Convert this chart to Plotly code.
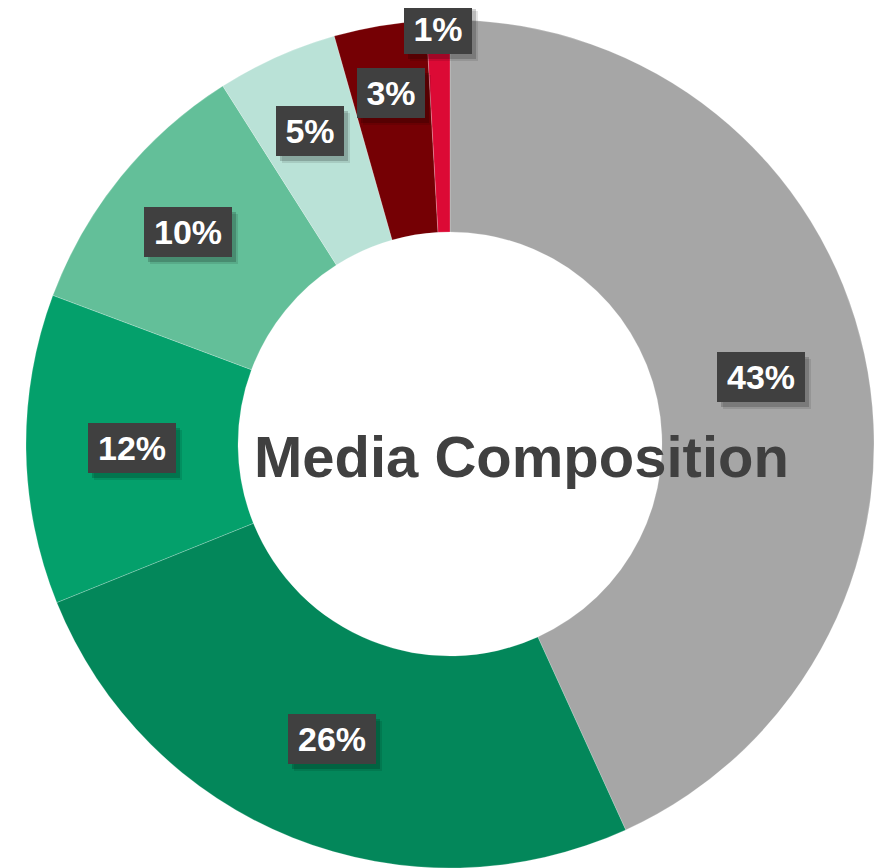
import math
import plotly.graph_objects as go

# ---- data ----
categories = ["Segment A", "Segment B", "Segment C", "Segment D", "Segment E", "Segment F", "Segment G"]
values = [43.2, 25.7, 11.8, 10.3, 4.6, 3.5, 0.9]
labels_text = ["43%", "26%", "12%", "10%", "5%", "3%", "1%"]
colors = ["#A6A6A6", "#03875A", "#04A06B", "#63BF99", "#BAE2D7", "#750004", "#DC0A35"]
center_title = "Media Composition"

# label placement style (fraction of outer radius for each label)
label_radius = [0.75, 0.75, 0.75, 0.795, 0.81, 0.84, 0.98]

W, H = 884, 868
OFF = 8  # page body margin
CX, CY_TOP, R = 450 - OFF, 444 - OFF, 424  # pie centre (px in figure) and radius
HOLE = 0.5

fig = go.Figure()
fig.add_trace(go.Pie(
    labels=categories,
    values=values,
    hole=HOLE,
    sort=False,
    direction="clockwise",
    rotation=0,
    textinfo="none",
    hoverinfo="label+percent",
    marker=dict(colors=colors, line=dict(color="rgba(255,255,255,0.35)", width=0.6)),
    domain=dict(x=[(CX - R) / W, (CX + R) / W], y=[(H - CY_TOP - R) / H, (H - CY_TOP + R) / H]),
    showlegend=False,
))

# label boxes, positioned from the data's cumulative angles
total = sum(values)
cum = 0.0
annotations = []
FS = 34
PAD = 5
for v, txt, rf in zip(values, labels_text, label_radius):
    mid = (cum + v / 2) / total * 2 * math.pi
    cum += v
    px = CX + rf * R * math.sin(mid)
    py = CY_TOP - rf * R * math.cos(mid)
    xp = px / W
    yp = (H - py) / H
    bw = 88 if len(txt) == 3 else 68
    # soft drop shadow (two layers)
    for sx, sy, op in ((6, -7, 0.10), (4, -5, 0.18)):
        annotations.append(dict(
            x=xp, y=yp, xref="paper", yref="paper",
            text=" ", showarrow=False,
            font=dict(size=FS, color="rgba(0,0,0,0)"),
            bgcolor=f"rgba(0,0,0,{op})",
            borderpad=PAD, borderwidth=0,
            width=bw - 2 * PAD, height=50 - 2 * PAD,
            xshift=sx, yshift=sy,
            xanchor="center", yanchor="middle",
        ))
    annotations.append(dict(
        x=xp, y=yp, xref="paper", yref="paper",
        text=txt, showarrow=False,
        font=dict(family="Liberation Sans, Arial, sans-serif", size=FS, color="white", weight="bold"),
        bgcolor="#404040",
        borderpad=PAD, borderwidth=0,
        width=bw - 2 * PAD, height=50 - 2 * PAD,
        xanchor="center", yanchor="middle",
    ))

annotations.append(dict(
    x=(521 - OFF) / W, y=(H - (457 - OFF)) / H, xref="paper", yref="paper",
    text=center_title, showarrow=False,
    font=dict(family="Liberation Sans, Arial, sans-serif", size=58, color="#404040", weight="bold"),
    xanchor="center", yanchor="middle",
))

fig.update_layout(
    width=W, height=H,
    margin=dict(l=0, r=0, t=0, b=0),
    paper_bgcolor="white", plot_bgcolor="white",
    annotations=annotations,
)

fig.write_html("out.html")
